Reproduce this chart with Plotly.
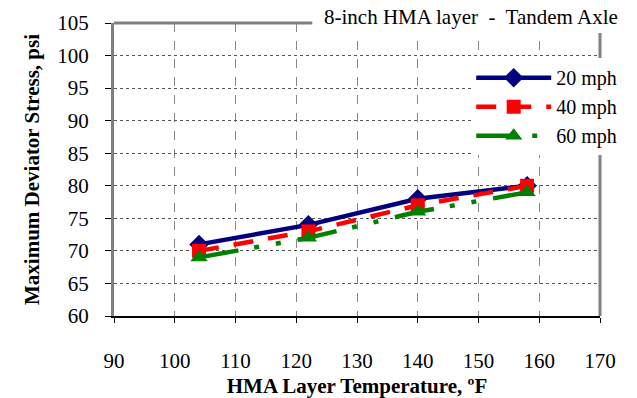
import plotly.graph_objects as go

temps = [104, 122, 140, 158]
s20 = [71, 74, 78, 80]
s40 = [70, 73, 77, 80]
s60 = [69, 72, 76, 79]
xticks = [90, 100, 110, 120, 130, 140, 150, 160, 170]
yticks = [60, 65, 70, 75, 80, 85, 90, 95, 100, 105]

FONT = "Liberation Serif"

fig = go.Figure()
fig.add_trace(go.Scatter(x=temps, y=s20, name="20 mph", mode="lines+markers",
                         line=dict(color="#000080", width=4.5),
                         marker=dict(symbol="diamond", size=15, color="#000080")))
fig.add_trace(go.Scatter(x=temps, y=s40, name="40 mph", mode="lines+markers",
                         line=dict(color="#ff0000", width=4.5, dash="20px,15px"),
                         marker=dict(symbol="square", size=14, color="#ff0000")))
fig.add_trace(go.Scatter(x=temps, y=s60, name="60 mph", mode="lines+markers",
                         line=dict(color="#008000", width=4.5, dash="40px,16px,5px,17px,5px,17px"),
                         marker=dict(symbol="triangle-up", size=15, color="#008000")))

fig.update_layout(
    width=637, height=398,
    margin=dict(l=114, r=37, t=23, b=82),
    paper_bgcolor="white", plot_bgcolor="white",
    font=dict(family=FONT, size=21, color="black"),
    showlegend=True,
    legend=dict(x=0.735, y=0.88, xanchor="left", yanchor="top",
                bgcolor="white", itemwidth=75, tracegroupgap=0,
                font=dict(family=FONT, size=20)),
    xaxis=dict(range=[90, 170], tickvals=xticks, ticks="outside", ticklen=5,
               tickcolor="black", showline=True, linecolor="black", linewidth=2,
               showgrid=True, gridcolor="#888888", griddash="dash", gridwidth=1,
               zeroline=False, ticklabelstandoff=20, automargin=False,
               title=dict(text="<b>HMA Layer Temperature, ºF</b>", standoff=6,
                          font=dict(family=FONT, size=21))),
    yaxis=dict(range=[60, 105], tickvals=yticks, ticks="outside", ticklen=6,
               tickcolor="black", showline=True, linecolor="#808080", linewidth=3,
               showgrid=True, gridcolor="#555555", griddash="dot", gridwidth=1,
               zeroline=False, ticklabelstandoff=12, automargin=False,
               title=dict(text="<b>Maximum Deviator Stress, psi</b>", standoff=12,
                          font=dict(family=FONT, size=21))),
)

# top and right border
fig.add_shape(type="line", xref="paper", yref="paper", x0=0, x1=1, y0=1, y1=1,
              line=dict(color="#808080", width=3), layer="above")
fig.add_shape(type="line", xref="paper", yref="paper", x0=1, x1=1, y0=0, y1=1,
              line=dict(color="#808080", width=3), layer="above")
# title box
fig.add_shape(type="rect", xref="paper", yref="paper", x0=0.408, x1=1.1, y0=0.966, y1=1.1,
              fillcolor="white", line=dict(width=0), layer="above")
fig.add_annotation(text="8-inch HMA layer  -  Tandem Axle", xref="paper", yref="paper",
                   x=0.735, y=1.02, xanchor="center", yanchor="middle", showarrow=False,
                   font=dict(family=FONT, size=21))

fig.write_html("out.html")
